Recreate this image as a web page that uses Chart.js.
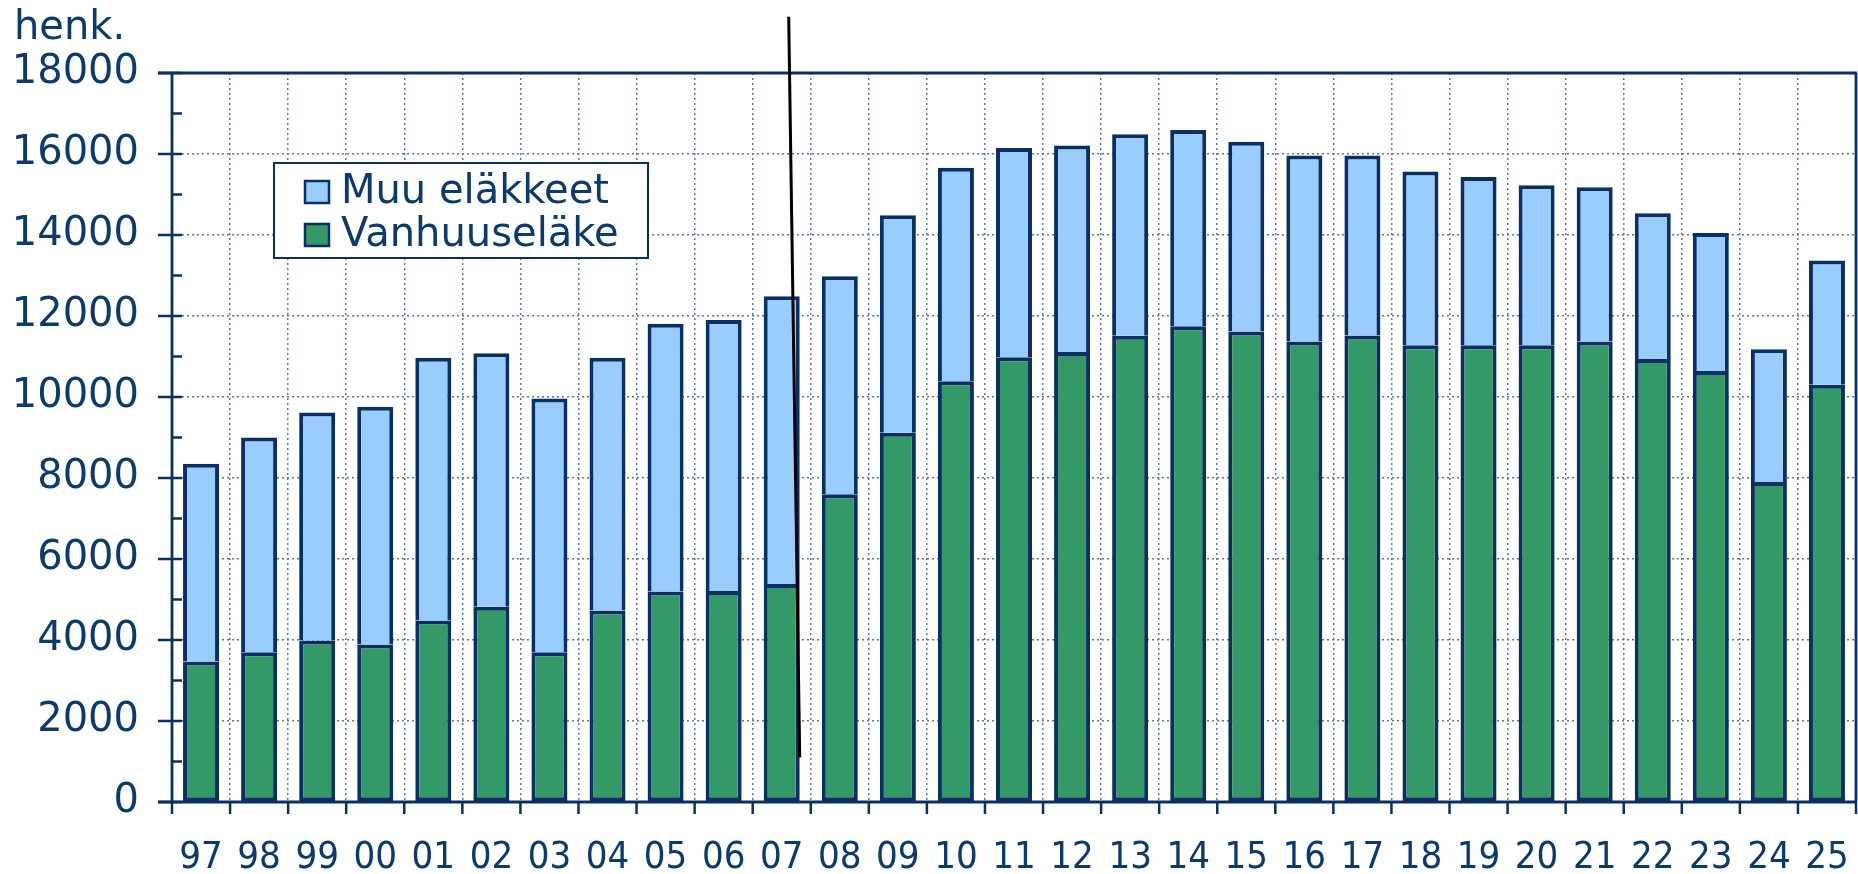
<!DOCTYPE html>
<html><head><meta charset="utf-8">
<script src="https://cdn.jsdelivr.net/npm/chart.js@4/dist/chart.umd.min.js"></script>
<style>html,body{margin:0;padding:0;background:#fff;}canvas{display:block}</style>
</head><body>
<canvas id="c" width="1858" height="874"></canvas>
<script>
// ---- data ----
const years = ['97','98','99','00','01','02','03','04','05','06','07','08','09','10','11','12','13','14','15','16','17','18','19','20','21','22','23','24','25'];
const vanhuuselake = [3470,3700,3990,3890,4480,4820,3700,4730,5200,5210,5380,7600,9120,10390,10980,11110,11510,11750,11620,11370,11520,11280,11280,11280,11370,10940,10640,7900,10300];
const muuElakkeet  = [4880,5300,5630,5870,6490,6260,6260,6240,6610,6690,7110,5380,5370,5270,5170,5100,4980,4840,4680,4590,4440,4290,4150,3950,3810,3600,3410,3280,3070];
const seriesNames = ['Vanhuuseläke','Muu eläkkeet'];
const unitLabel = 'henk.';
const yMin = 0, yMax = 18000, yStep = 2000;
// slanted marker line, in data units (category index, value)
const dividerFrom = [10.12, 19390];
const dividerTo   = [10.31, 1100];

// ---- styles ----
const NAVY = '#0a2f62';
const TEXT = '#0a3a70';
const GREEN = '#339966';
const BLUE = '#99ccff';
const GRID = '#5f789c';

const deco = {
  id: 'deco',
  afterDraw(chart) {
    const {ctx, chartArea: a, scales: {x, y}} = chart;
    ctx.save();
    const line = (x1, y1, x2, y2) => { ctx.beginPath(); ctx.moveTo(x1, y1); ctx.lineTo(x2, y2); ctx.stroke(); };
    ctx.strokeStyle = NAVY; ctx.lineWidth = 2.8; ctx.lineCap = 'butt';
    line(a.left, a.top, a.left, a.bottom);
    line(a.left - 14, a.bottom, a.right + 1, a.bottom);
    line(a.left - 14, a.top, a.right + 1, a.top);
    line(a.right, a.top, a.right, a.bottom);
    ctx.lineWidth = 2.5;
    y.ticks.forEach(t => { const py = y.getPixelForValue(t.value); line(a.left - 14, py, a.left + 10, py); });
    for (let v = yMin + yStep / 2; v < yMax; v += yStep) { const py = y.getPixelForValue(v); line(a.left, py, a.left + 10, py); }
    for (let i = 0; i <= years.length; i++) { const px = x.getPixelForValue(i - 0.5); line(px, a.bottom, px, a.bottom + 12); }

    // unit label
    ctx.fillStyle = TEXT; ctx.font = '40px "DejaVu Sans"'; ctx.textBaseline = 'alphabetic'; ctx.textAlign = 'left';
    ctx.fillText(unitLabel, 14, 39);

    // legend
    const lx = 274, ly = 163, lw = 374, lh = 95;
    ctx.fillStyle = '#fff'; ctx.fillRect(lx, ly, lw, lh);
    ctx.strokeStyle = NAVY; ctx.lineWidth = 2; ctx.strokeRect(lx, ly, lw, lh);
    const ds = chart.data.datasets.slice().reverse();
    ds.forEach((d, i) => {
      const cy = ly + 29 + i * 43;
      ctx.fillStyle = d.backgroundColor; ctx.fillRect(305, cy - 11, 24, 22);
      ctx.strokeStyle = NAVY; ctx.lineWidth = 2.5; ctx.strokeRect(305, cy - 11, 24, 22);
      ctx.fillStyle = TEXT; ctx.font = '40px "DejaVu Sans"'; ctx.textBaseline = 'middle';
      ctx.fillText(d.label, 341, cy + 1);
    });

    // slanted divider line
    ctx.strokeStyle = '#000'; ctx.lineWidth = 3;
    line(x.getPixelForValue(dividerFrom[0]), y.getPixelForValue(dividerFrom[1]),
         x.getPixelForValue(dividerTo[0]), y.getPixelForValue(dividerTo[1]));
    ctx.restore();
  }
};

new Chart(document.getElementById('c'), {
  type: 'bar',
  data: {
    labels: years,
    datasets: [
      {label: seriesNames[0], data: vanhuuselake, backgroundColor: GREEN, borderColor: NAVY, borderWidth: 4, borderSkipped: false, inflateAmount: 0},
      {label: seriesNames[1], data: muuElakkeet, backgroundColor: BLUE, borderColor: NAVY, borderWidth: 4, borderSkipped: 'bottom', inflateAmount: 0}
    ]
  },
  options: {
    responsive: false, animation: false, devicePixelRatio: 1,
    layout: {padding: {top: 73, right: 2, left: 0, bottom: 0}},
    datasets: {bar: {barPercentage: 0.62, categoryPercentage: 1}},
    plugins: {legend: {display: false}, tooltip: {enabled: false}},
    scales: {
      x: {
        stacked: true,
        afterFit: s => { s.height = 72; s.paddingLeft = 0; s.paddingRight = 0; },
        grid: {offset: true, color: GRID, lineWidth: 1.5, drawTicks: false},
        border: {display: false, dash: [2, 3]},
        ticks: {color: TEXT, autoSkip: false, maxRotation: 0, padding: 33,
          font: {family: "'Liberation Sans Narrow','DejaVu Sans Condensed','Liberation Sans',sans-serif", size: 38}}
      },
      y: {
        stacked: true, min: yMin, max: yMax,
        afterFit: s => { s.width = 172; s.paddingTop = 0; s.paddingBottom = 0; },
        grid: {color: GRID, lineWidth: 1.5, drawTicks: false},
        border: {display: false, dash: [2, 3]},
        ticks: {stepSize: yStep, color: TEXT, padding: 33, callback: v => String(v),
          font: {family: '"DejaVu Sans"', size: 40}}
      }
    }
  },
  plugins: [deco]
});
</script>
</body></html>
